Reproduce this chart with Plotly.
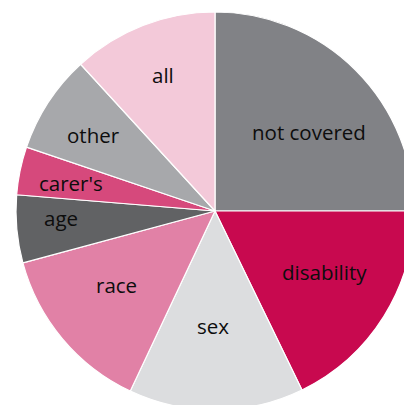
import math
import plotly.graph_objects as go

# ---- data ----
categories = ["not covered", "disability", "sex", "race", "age", "carer's", "other", "all"]
values = [25.0, 17.8, 14.2, 13.8, 5.5, 3.9, 8.0, 11.8]
colors = ["#818286", "#c8094f", "#dcdddf", "#e181a6", "#616264", "#d6497c", "#a7a8ab", "#f3c9d9"]

# label placement: fraction of radius, angular offset (deg, clockwise)
label_radius = [0.61, 0.635, 0.59, 0.625, 0.775, 0.735, 0.715, 0.72]
label_dangle = [5.5, -2.0, 1.3, 2.3, 2.0, -1.3, -1.7, 0.0]

W, H = 430, 425
D = 398
ML, MT = 16, 12

fig = go.Figure(go.Pie(
    labels=categories,
    values=values,
    sort=False,
    direction="clockwise",
    rotation=0,
    marker=dict(colors=colors, line=dict(color="white", width=1.2)),
    textinfo="none",
    hoverinfo="label+value",
    showlegend=False,
    domain=dict(x=[0, 1], y=[0, 1]),
))

total = sum(values)
cum = 0.0
annotations = []
for cat, v, rf, da in zip(categories, values, label_radius, label_dangle):
    # angle clockwise from 12 o'clock
    mid = (cum + v / 2) / total * 360.0 + da
    cum += v
    th = math.radians(mid)
    x = 0.5 + 0.5 * rf * math.sin(th)
    y = 0.5 + 0.5 * rf * math.cos(th)
    annotations.append(dict(
        x=x, y=y, xref="paper", yref="paper", text=cat, showarrow=False,
        xanchor="center", yanchor="middle", yshift=2,
        font=dict(family="Open Sans", size=20.5, color="#0d0d0d"),
    ))

fig.update_layout(
    width=W, height=H,
    margin=dict(l=ML, t=MT, r=W - ML - D, b=H - MT - D, pad=0),
    paper_bgcolor="white", plot_bgcolor="white",
    annotations=annotations,
)

fig.write_html(
    "out.html",
    post_script="document.body.style.margin='0';document.body.style.overflow='hidden';document.documentElement.style.overflow='hidden';",
    config={"displayModeBar": False},
)
